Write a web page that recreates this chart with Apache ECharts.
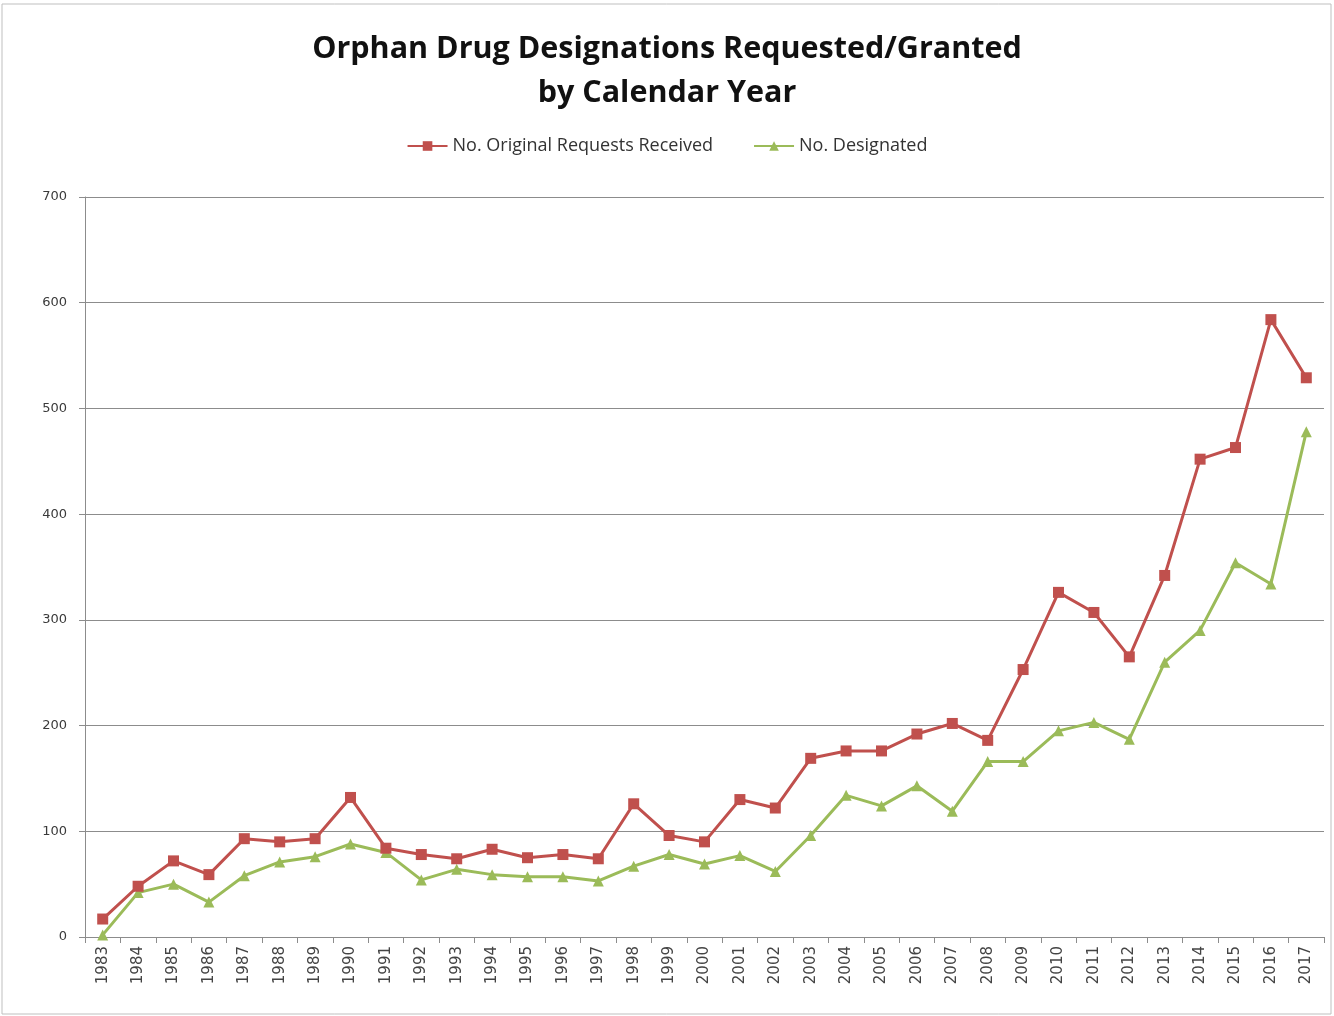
<!DOCTYPE html>
<html>
<head>
<meta charset="utf-8">
<script src="https://cdn.jsdelivr.net/npm/echarts@6/dist/echarts.min.js"></script>
<style>
  html, body { margin: 0; padding: 0; background: #fff; }
  #chart { width: 1334px; height: 1016px; }
</style>
</head>
<body>
<div id="chart"></div>
<script>
// Calendar years on the category axis
const years = [
  '1983','1984','1985','1986','1987','1988','1989','1990','1991','1992',
  '1993','1994','1995','1996','1997','1998','1999','2000','2001','2002',
  '2003','2004','2005','2006','2007','2008','2009','2010','2011','2012',
  '2013','2014','2015','2016','2017'
];

// Original designation requests received per year
const requestsReceived = [
  17, 48, 72, 59, 93, 90, 93, 132, 84, 78,
  74, 83, 75, 78, 74, 126, 96, 90, 130, 122,
  169, 176, 176, 192, 202, 186, 253, 326, 307, 265,
  342, 452, 463, 584, 529
];

// Designations granted per year
const designated = [
  2, 42, 50, 33, 58, 71, 76, 88, 80, 54,
  64, 59, 57, 57, 53, 67, 78, 69, 77, 62,
  96, 134, 124, 143, 119, 166, 166, 195, 203, 187,
  260, 290, 354, 334, 478
];

const yTicks = { min: 0, max: 700, interval: 100 };

const RED = '#C0504D';
const GREEN = '#9BBB59';
const FONT = '"Open Sans", "Noto Sans", sans-serif';
const AXIS_FONT = '"DejaVu Sans", sans-serif';

const chart = echarts.init(document.getElementById('chart'));
chart.setOption({
  backgroundColor: '#ffffff',
  animation: false,
  title: {
    text: 'Orphan Drug Designations Requested/Granted\nby Calendar Year',
    left: 'center',
    top: 22,
    textStyle: {
      fontFamily: FONT,
      fontSize: 30.5,
      fontWeight: 'bold',
      color: '#111',
      lineHeight: 44
    }
  },
  legend: {
    top: 132,
    left: 'center',
    itemGap: 40,
    itemWidth: 40,
    itemHeight: 12,
    textStyle: { fontFamily: FONT, fontSize: 18, color: '#333' },
    data: ['No. Original Requests Received', 'No. Designated']
  },
  graphic: [{
    type: 'rect',
    shape: { x: 2, y: 4, width: 1329, height: 1010 },
    style: { fill: 'none', stroke: '#bfbfbf', lineWidth: 1 },
    silent: true
  }],
  grid: { left: 85, right: 10, top: 197, bottom: 79 },
  xAxis: {
    type: 'category',
    data: years,
    boundaryGap: true,
    axisLine: { lineStyle: { color: '#8c8c8c', width: 1 } },
    axisTick: { show: true, length: 6, lineStyle: { color: '#8c8c8c' } },
    axisLabel: {
      rotate: 90,
      interval: 0,
      fontFamily: AXIS_FONT,
      fontSize: 15,
      color: '#444',
      margin: 9
    }
  },
  yAxis: {
    type: 'value',
    min: yTicks.min,
    max: yTicks.max,
    interval: yTicks.interval,
    axisLine: { show: true, lineStyle: { color: '#8c8c8c', width: 1 } },
    axisTick: { show: true, length: 6, lineStyle: { color: '#8c8c8c' } },
    splitLine: { lineStyle: { color: '#8c8c8c', width: 1.2 } },
    axisLabel: { fontFamily: AXIS_FONT, fontSize: 13, color: '#3a3a3a', margin: 18 }
  },
  series: [
    {
      name: 'No. Original Requests Received',
      type: 'line',
      data: requestsReceived,
      symbol: 'rect',
      symbolSize: 11,
      lineStyle: { color: RED, width: 3 },
      itemStyle: { color: RED },
      z: 3
    },
    {
      name: 'No. Designated',
      type: 'line',
      data: designated,
      symbol: 'triangle',
      symbolSize: 11,
      lineStyle: { color: GREEN, width: 3 },
      itemStyle: { color: GREEN },
      z: 2
    }
  ]
});
</script>
</body>
</html>
